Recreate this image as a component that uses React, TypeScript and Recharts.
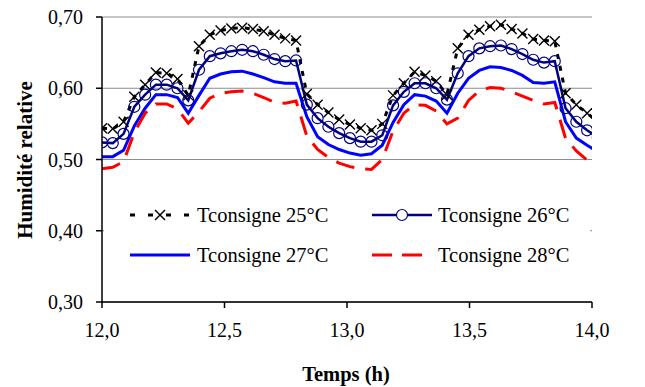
import React from 'react'
import { LineChart, Line, XAxis, YAxis, CartesianGrid, Legend, Label } from 'recharts'

const FONT = '"Liberation Serif", "Times New Roman", serif'

// temps (h)
const times = [
  12.0, 12.044, 12.088, 12.132, 12.176, 12.22, 12.264, 12.308, 12.352, 12.396,
  12.44, 12.484, 12.528, 12.572, 12.616, 12.66, 12.704, 12.748, 12.792, 12.836,
  12.88, 12.924, 12.968, 13.012, 13.056, 13.1, 13.144, 13.188, 13.232, 13.276,
  13.32, 13.364, 13.408, 13.452, 13.496, 13.54, 13.584, 13.628, 13.672, 13.716,
  13.76, 13.804, 13.848, 13.892, 13.936, 13.98, 14.024,
]

// humidité relative, une liste par consigne
const tc25 = [
  0.544, 0.543, 0.553, 0.588, 0.605, 0.622, 0.621, 0.613, 0.59, 0.659,
  0.675, 0.681, 0.684, 0.685, 0.683, 0.68, 0.675, 0.67, 0.667, 0.592,
  0.577, 0.566, 0.556, 0.549, 0.544, 0.541, 0.55, 0.59, 0.607, 0.623,
  0.618, 0.61, 0.591, 0.656, 0.675, 0.682, 0.687, 0.689, 0.683, 0.677,
  0.669, 0.667, 0.666, 0.593, 0.577, 0.565, 0.553,
]
const tc26 = [
  0.524, 0.523, 0.536, 0.574, 0.591, 0.605, 0.605, 0.6, 0.583, 0.626,
  0.645, 0.649, 0.652, 0.654, 0.652, 0.647, 0.641, 0.638, 0.639, 0.577,
  0.558, 0.546, 0.537, 0.53, 0.525, 0.525, 0.534, 0.576, 0.595, 0.607,
  0.607, 0.6, 0.584, 0.621, 0.645, 0.656, 0.659, 0.66, 0.655, 0.648,
  0.64, 0.636, 0.638, 0.572, 0.553, 0.541, 0.531,
]
const tc27 = [
  0.504, 0.504, 0.513, 0.547, 0.572, 0.591, 0.591, 0.587, 0.565, 0.59,
  0.614, 0.62, 0.623, 0.624, 0.62, 0.615, 0.609, 0.607, 0.607, 0.56,
  0.532, 0.521, 0.514, 0.509, 0.506, 0.508, 0.52, 0.552, 0.577, 0.591,
  0.589, 0.582, 0.565, 0.593, 0.614, 0.625, 0.63, 0.629, 0.625, 0.618,
  0.608, 0.607, 0.609, 0.553, 0.53, 0.52, 0.511,
]
const tc28 = [
  0.487, 0.489, 0.497, 0.538, 0.565, 0.578, 0.578, 0.571, 0.551, 0.567,
  0.586, 0.593, 0.595, 0.596, 0.593, 0.587, 0.58, 0.579, 0.582, 0.533,
  0.514, 0.503, 0.495, 0.49, 0.487, 0.486, 0.5, 0.54, 0.565, 0.577,
  0.576, 0.568, 0.55, 0.558, 0.583, 0.596, 0.601, 0.6, 0.595, 0.589,
  0.583, 0.578, 0.58, 0.53, 0.512, 0.499, 0.49,
]

const seriesNames = ['Tconsigne 25°C', 'Tconsigne 26°C', 'Tconsigne 27°C', 'Tconsigne 28°C']
const xTicks = [12, 12.5, 13, 13.5, 14]
const yTicks = [0.3, 0.4, 0.5, 0.6, 0.7]

const data = times.map((t, i) => ({
  t,
  s25: tc25[i],
  s26: tc26[i],
  s27: tc27[i],
  s28: tc28[i],
}))

const comma = (v: number, d: number) => v.toFixed(d).replace('.', ',')

// marqueur en croix pour la série 25°C
const CrossDot = (props: any) => {
  const { cx, cy, index } = props
  if (cx == null || cy == null) return <g key={`x-${index}`} />
  return (
    <g key={`x-${index}`}>
      <line x1={cx - 5} y1={cy - 5} x2={cx + 5} y2={cy + 5} stroke="#000" strokeWidth={1.4} />
      <line x1={cx - 5} y1={cy + 5} x2={cx + 5} y2={cy - 5} stroke="#000" strokeWidth={1.4} />
    </g>
  )
}

const RingDot = (props: any) => {
  const { cx, cy, index } = props
  if (cx == null || cy == null) return <g key={`o-${index}`} />
  return <circle key={`o-${index}`} cx={cx} cy={cy} r={5.5} fill="none" stroke="#000080" strokeWidth={1.2} />
}

const legendPos = [
  { left: 26, top: 22, text: 93 },
  { left: 268, top: 22, text: 334 },
  { left: 26, top: 62, text: 93 },
  { left: 268, top: 62, text: 334 },
]

const Sample = ({ idx }: { idx: number }) => {
  let content: React.ReactNode = null
  if (idx === 0) {
    content = (
      <g>
        <line x1={0} y1={10} x2={60} y2={10} stroke="#000" strokeWidth={3} strokeDasharray="5 13" />
        <line x1={25} y1={5} x2={35} y2={15} stroke="#000" strokeWidth={1.4} />
        <line x1={25} y1={15} x2={35} y2={5} stroke="#000" strokeWidth={1.4} />
      </g>
    )
  } else if (idx === 1) {
    content = (
      <g>
        <line x1={0} y1={10} x2={60} y2={10} stroke="#000080" strokeWidth={2.5} />
        <circle cx={30} cy={10} r={5.5} fill="#fff" stroke="#000080" strokeWidth={1.2} />
      </g>
    )
  } else if (idx === 2) {
    content = <line x1={0} y1={10} x2={60} y2={10} stroke="#0000ff" strokeWidth={3} />
  } else {
    content = <line x1={0} y1={10} x2={60} y2={10} stroke="#ff0000" strokeWidth={3} strokeDasharray="20 10" />
  }
  return (
    <svg width={60} height={20} style={{ position: 'absolute', left: 0, top: -10 }}>
      {content}
    </svg>
  )
}

const LegendBox = () => (
  <div style={{ position: 'relative', width: 486, height: 84, background: '#fff', fontFamily: FONT, fontSize: 20.5, color: '#000' }}>
    {seriesNames.map((name, i) => (
      <div key={name}>
        <div style={{ position: 'absolute', left: legendPos[i].left, top: legendPos[i].top }}>
          <Sample idx={i} />
        </div>
        <div style={{ position: 'absolute', left: legendPos[i].text, top: legendPos[i].top - 12, lineHeight: '24px', whiteSpace: 'nowrap' }}>
          {name}
        </div>
      </div>
    ))}
  </div>
)

export default function App() {
  const tickStyle = { fontFamily: FONT, fontSize: 20, fill: '#000' }
  return (
    <div style={{ position: 'absolute', left: 0, top: 0, width: 645, height: 387, background: '#fff' }}>
      <LineChart width={645} height={387} data={data} margin={{ top: 17, right: 53, left: 0, bottom: 0 }}>
        <CartesianGrid vertical={false} stroke="#8c8c8c" strokeWidth={1} />
        <XAxis
          dataKey="t"
          type="number"
          domain={[12, 14]}
          allowDataOverflow
          ticks={xTicks}
          tickFormatter={(v: number) => comma(v, 1)}
          tick={tickStyle}
          tickSize={6}
          tickMargin={15}
          height={85}
          stroke="#000"
          strokeWidth={1.5}
        >
          <Label
            content={() => (
              <text x={346} y={374} textAnchor="middle" dominantBaseline="central" fontFamily={FONT} fontSize={20.5} fontWeight="bold" fill="#000">
                Temps (h)
              </text>
            )}
          />
        </XAxis>
        <YAxis
          type="number"
          domain={[0.3, 0.7]}
          allowDataOverflow
          ticks={yTicks}
          tickFormatter={(v: number) => comma(v, 2)}
          tick={tickStyle}
          tickSize={6}
          tickMargin={13}
          width={102}
          stroke="#000"
          strokeWidth={1.5}
        >
          <Label
            content={() => (
              <text x={25} y={160} transform="rotate(-90 25 160)" textAnchor="middle" dominantBaseline="central" fontFamily={FONT} fontSize={21} fontWeight="bold" fill="#000">
                Humidité relative
              </text>
            )}
          />
        </YAxis>
        <Legend
          layout="horizontal"
          verticalAlign="middle"
          content={() => <LegendBox />}
          wrapperStyle={{ left: 104, top: 193, width: 486, height: 84 }}
        />
        <Line type="linear" dataKey="s25" name={seriesNames[0]} stroke="#000" strokeWidth={3} strokeDasharray="5 7" dot={CrossDot} isAnimationActive={false} />
        <Line type="linear" dataKey="s26" name={seriesNames[1]} stroke="#000080" strokeWidth={2.5} dot={RingDot} isAnimationActive={false} />
        <Line type="linear" dataKey="s27" name={seriesNames[2]} stroke="#0000ff" strokeWidth={3} dot={false} isAnimationActive={false} />
        <Line type="linear" dataKey="s28" name={seriesNames[3]} stroke="#ff0000" strokeWidth={3} strokeDasharray="19 11" dot={false} isAnimationActive={false} />
      </LineChart>
    </div>
  )
}
